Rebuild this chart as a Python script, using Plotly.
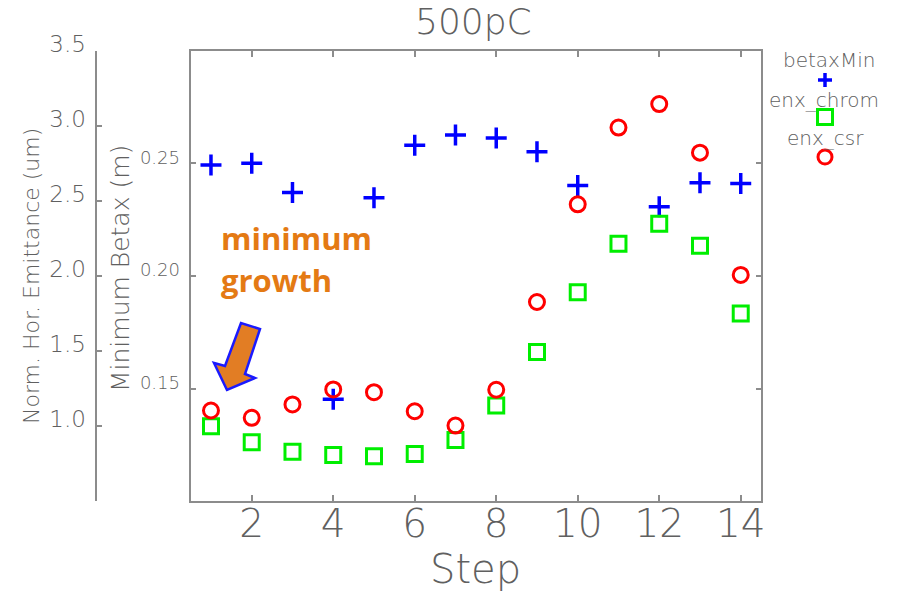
import plotly.graph_objects as go

# ---------------- data ----------------
steps = list(range(1, 15))
betax_min = [0.2492, 0.2500, 0.2370, 0.1453, 0.2347, 0.2580, 0.2626,
             0.2612, 0.2551, 0.2402, None, 0.2307, 0.2414, 0.2410]
enx_chrom = [1.000, 0.893, 0.831, 0.809, 0.800, 0.815, 0.909,
             1.138, 1.495, 1.892, 2.215, 2.348, 2.201, 1.751]
enx_csr = [1.105, 1.056, 1.145, 1.245, 1.227, 1.100, 1.005,
           1.243, 1.827, 2.477, 2.988, 3.144, 2.821, 2.007]
x_ticks = [2, 4, 6, 8, 10, 12, 14]
betax_ticks = [0.15, 0.20, 0.25]
enx_ticks = [1.0, 1.5, 2.0, 2.5, 3.0, 3.5]

# ---------------- geometry helpers (pixel -> paper) ----------------
W, H = 898, 592
def px(x):
    return x / W
def py(y):
    return 1 - y / H

GRAY = "#606060"
LINE = "#8c8c8c"
FONT = "DejaVu Sans"
WT = 200

def f(size, color=GRAY):
    return dict(size=size, color=color, family=FONT, weight=WT)

fig = go.Figure()
fig.add_trace(go.Scatter(
    x=steps, y=betax_min, mode="markers", name="betaxMin", yaxis="y",
    marker=dict(symbol="cross-thin-open", size=15, color="#0000ff",
                line=dict(color="#0000ff", width=3.5)),
    showlegend=False))
fig.add_trace(go.Scatter(
    x=steps, y=enx_chrom, mode="markers", name="enx_chrom", yaxis="y2",
    marker=dict(symbol="square-open", size=15, color="#00ee00",
                line=dict(color="#00ee00", width=3)),
    showlegend=False))
fig.add_trace(go.Scatter(
    x=steps, y=enx_csr, mode="markers", name="enx_csr", yaxis="y2",
    marker=dict(symbol="circle-open", size=15, color="#ff0000",
                line=dict(color="#ff0000", width=3)),
    showlegend=False))

axis_common = dict(showgrid=False, zeroline=False, showline=True,
                   linecolor=LINE, linewidth=2, ticks="inside",
                   tickcolor=LINE, tickwidth=1.5, automargin=False)

fig.update_layout(
    width=W, height=H,
    margin=dict(l=0, r=0, t=0, b=0, autoexpand=False),
    paper_bgcolor="white", plot_bgcolor="white",
    font=dict(family=FONT, color=GRAY, weight=WT),
    xaxis=dict(domain=[px(190.6), px(761.1)], range=[0.5, 14.5],
               tickvals=x_ticks, ticklen=6, mirror="ticks",
               tickfont=f(39), ticklabelstandoff=-13,
               anchor="y", **axis_common),
    yaxis=dict(domain=[py(501.4), py(50.6)], range=[0.10, 0.30],
               tickvals=betax_ticks,
               ticktext=["%.2f" % v for v in betax_ticks],
               ticklen=5, mirror="ticks",
               tickfont=f(18),
               ticklabelshift=-6, ticklabelstandoff=5,
               **axis_common),
    yaxis2=dict(overlaying="y", anchor="free", position=px(95.5),
                side="left", range=[0.5, 3.5], tickvals=enx_ticks,
                ticktext=["%.1f" % v for v in enx_ticks],
                ticklen=5, tickfont=f(23),
                ticklabelshift=-7, ticklabelstandoff=4,
                **axis_common),
)

ann = []
def add_text(txt, x, y, size, angle=0, anchor="center"):
    ann.append(dict(text=txt, x=px(x), y=py(y), xref="paper", yref="paper",
                    showarrow=False, textangle=angle, xanchor=anchor,
                    yanchor="middle", font=f(size)))

add_text("500pC", 474, 21, 36)
add_text("Step", 475, 569, 40)
add_text("Norm. Hor. Emittance (um)", 31, 276, 22, angle=-90)
add_text("Minimum Betax (m)", 120, 269, 25, angle=-90)
# custom legend labels
add_text("betaxMin", 829, 60, 20)
add_text("enx_chrom", 824, 100, 20)
add_text("enx_csr", 825, 138, 20)

# callout text
ORANGE = "#e47a14"
for txt, y in [("<b>minimum</b>", 238), ("<b>growth</b>", 280)]:
    ann.append(dict(text=txt, x=px(219), y=py(y), xref="paper",
                    yref="paper", showarrow=False, xanchor="left",
                    yanchor="middle",
                    font=dict(size=31, color=ORANGE, weight=700,
                              family="Comic Sans MS, Open Sans")))

shapes = []
# block arrow
arrow_pts = [(227, 390), (214, 363), (225, 366), (241, 323), (260, 329),
             (245, 374), (255, 378)]
path = "M " + " L ".join("%.5f,%.5f" % (px(a), py(b)) for a, b in arrow_pts) + " Z"
shapes.append(dict(type="path", path=path, xref="paper", yref="paper",
                   fillcolor="#e27d24", line=dict(color="#1a1aff", width=2.5)))
# legend symbols
shapes.append(dict(type="line", xref="paper", yref="paper",
                   x0=px(818), x1=px(832), y0=py(80), y1=py(80),
                   line=dict(color="#0000ff", width=3.5)))
shapes.append(dict(type="line", xref="paper", yref="paper",
                   x0=px(825), x1=px(825), y0=py(73), y1=py(87),
                   line=dict(color="#0000ff", width=3.5)))
shapes.append(dict(type="rect", xref="paper", yref="paper",
                   x0=px(817.5), x1=px(832.5), y0=py(109.5), y1=py(124.5),
                   line=dict(color="#00ee00", width=3)))
shapes.append(dict(type="circle", xref="paper", yref="paper",
                   x0=px(818), x1=px(832), y0=py(150), y1=py(164),
                   line=dict(color="#ff0000", width=3)))

fig.update_layout(annotations=ann, shapes=shapes)
fig.write_html("out.html")
